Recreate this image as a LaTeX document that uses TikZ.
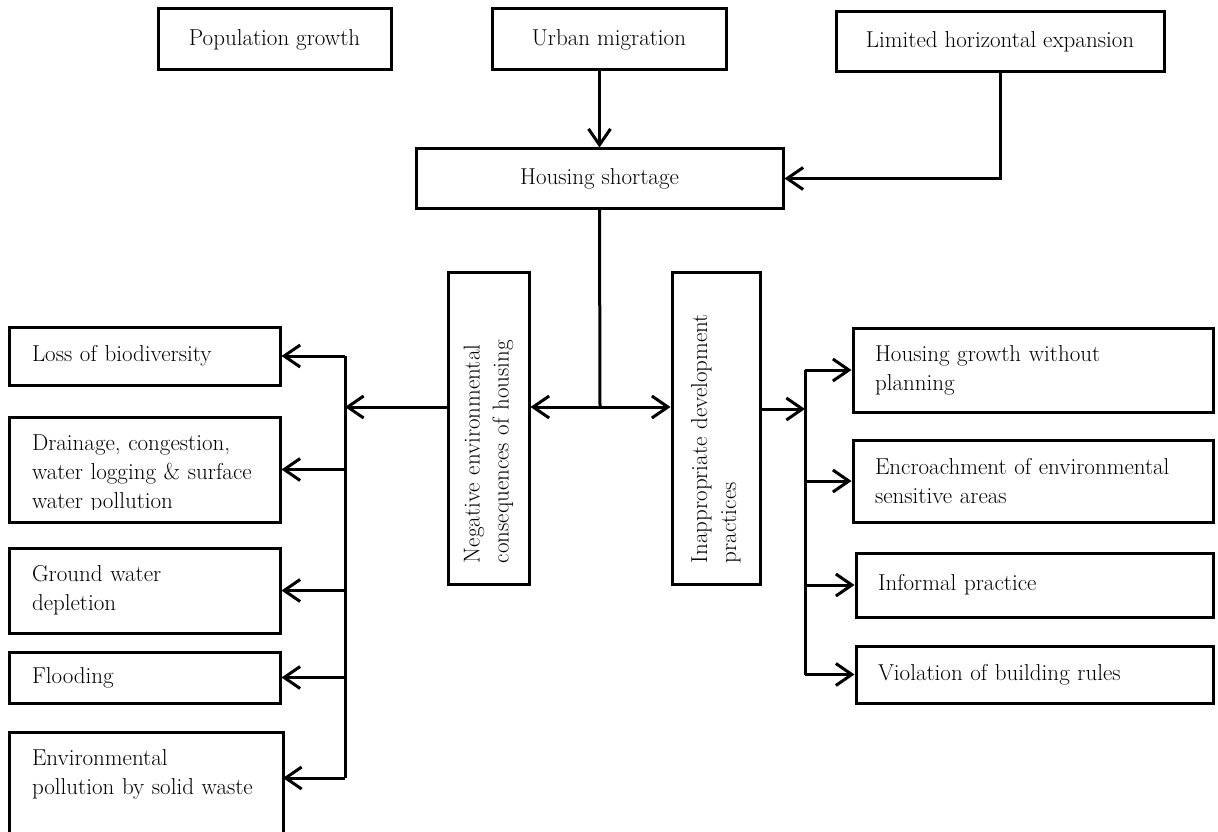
\documentclass[tikz,border=0pt]{standalone}
\usetikzlibrary{arrows.meta}
\begin{document}
\begin{tikzpicture}[x=1pt,y=-1pt,
  txt/.style={font=\fontsize{23}{29}\selectfont, inner sep=0pt},
  box/.style={txt, draw, line width=3pt},
  lbox/.style={box, align=left, text width=#1},
  conn/.style={line width=3pt},
  arr/.style={conn, -{Straight Barb[length=16pt,width=22pt]}}]
\clip (0,0) rectangle (1218,832);
\fill[white] (0,0) rectangle (1218,832);

% causes
\node[box, minimum width=233, minimum height=61] (pop) at (274.5,39.5) {Population growth};
\node[box, minimum width=234, minimum height=61] (urban) at (609,39.5) {Urban migration};
\node[box, minimum width=328, minimum height=60] (limited) at (1000,42) {Limited horizontal expansion};
\node[box, minimum width=367, minimum height=59] (housing) at (599.5,178.5) {Housing shortage};

\draw[arr] (urban.south -| housing.north) -- (housing.north);
\draw[arr] (limited.south) |- (housing.east);

% the two consequence columns
\coordinate (hub) at (600,407);
\node[box, rotate=90, minimum width=312, minimum height=81, text width=270, align=left] (neg) at (488.5,428)
  {Negative environmental\\consequences of housing};
\node[box, rotate=90, minimum width=312, minimum height=88, text width=270, align=left] (inap) at (716,428)
  {Inappropriate development\\practices};

\draw[conn] (housing.south) -- (hub);
\draw[arr] (hub) -- (hub -| neg.south);
\draw[arr] (hub) -- (hub -| inap.north);

% environmental consequences
\coordinate (lj) at (345,407);
\draw[arr] (hub -| neg.north) -- (lj);

\node[lbox=225, minimum width=271, minimum height=58] (loss) at (144.5,356) {Loss of biodiversity};
\node[box, minimum width=271, minimum height=105] (drain) at (144.5,469.5) {};
\begin{scope}
  \clip (drain.north west) rectangle ([yshift=14pt]drain.south east);
  \node[txt, align=left, text width=225] (draintext) at ([yshift=-4pt]drain.center)
    {\mbox{Drainage, congestion,}\\\mbox{water logging \& surface}\\water pollution};
\end{scope}
\node[lbox=225, minimum width=271, minimum height=85] (ground) at (144.5,590.5) {Ground water\\depletion};
\node[lbox=225, minimum width=271, minimum height=51] (flood) at (144.5,677.5) {Flooding};
\node[box, minimum width=274, minimum height=118] (envw) at (146,791) {};
\node[txt, align=left, text width=228] (envwtext) at (146,774)
  {Environmental\\\mbox{pollution by solid waste}};
\coordinate (ew) at (283,778);

\draw[conn] (loss.east -| lj) -- (ew -| lj);
\foreach \b in {loss,drain,ground,flood}
  \draw[arr] (\b.east -| lj) -- (\b.east);
\draw[arr] (ew -| lj) -- (ew);

% development practices
\coordinate (rj) at (805,409);
\draw[arr] (rj -| inap.south) -- (rj);

\node[lbox=316, minimum width=360, minimum height=84] (hg) at (1033,370)
  {\mbox{Housing growth without}\\planning};
\node[lbox=316, minimum width=360, minimum height=82] (enc) at (1033,481)
  {\mbox{Encroachment of environmental}\\sensitive areas};
\node[lbox=313, minimum width=357, minimum height=64] (inf) at (1034.5,585) {Informal practice};
\node[lbox=313, minimum width=357, minimum height=57] (viol) at (1034.5,674.5) {Violation of building rules};

\draw[conn] (hg.west -| rj) -- (viol.west -| rj);
\foreach \b in {hg,enc,inf,viol}
  \draw[arr] (\b.west -| rj) -- (\b.west);
\end{tikzpicture}
\end{document}
